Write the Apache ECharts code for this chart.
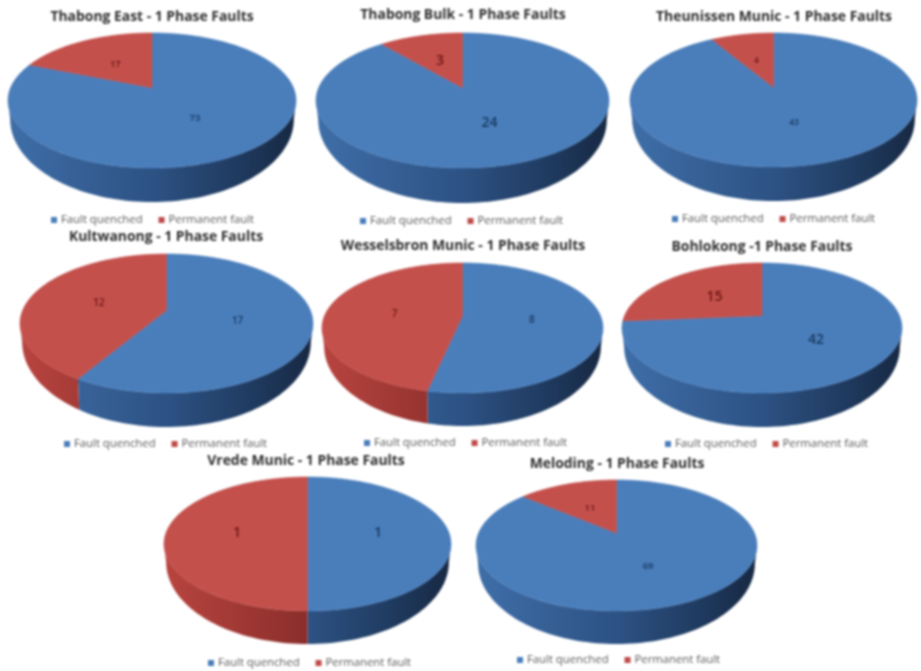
<!DOCTYPE html>
<html>
<head>
<meta charset="utf-8">
<script src="https://cdn.jsdelivr.net/npm/echarts@6/dist/echarts.min.js"></script>
<style>
html,body{margin:0;padding:0;background:#fff;overflow:hidden}
#c{width:921px;height:671px;filter:blur(0.8px)}
</style>
</head>
<body>
<div id="c"></div>
<script>
// ---- data ----
const substations = ['Thabong East','Thabong Bulk','Theunissen Munic','Kultwanong','Wesselsbron Munic','Bohlokong','Vrede Munic','Meloding'];
const chartTitles = ['Thabong East - 1 Phase Faults','Thabong Bulk - 1 Phase Faults','Theunissen Munic - 1 Phase Faults','Kultwanong - 1 Phase Faults','Wesselsbron Munic - 1 Phase Faults','Bohlokong -1 Phase Faults','Vrede Munic - 1 Phase Faults','Meloding - 1 Phase Faults'];
const faultQuenched = [73,24,43,17,8,42,1,69];
const permanentFault = [17,3,4,12,7,15,1,11];
const seriesNames = ['Fault quenched','Permanent fault'];

// ---- layout of each pie ----
const pieLeft  = [8,316,630,20,322,622,164,476];
const pieRight = [296,609,917,313,603,902,451,757];
const pieTop   = [33,33,33,254,263,263,477,480];
const pieFront = [168,168,167,393,393,393,611,611];
const pieBase  = [202,203,201,427,426,427,644,644];
const titleX   = [152,463,774,166,463,762,306,617];
const titleY   = [17,15,17,237,246,247,461,464];
const legendX  = [51,360,672,64,364,665,208,517];
const legendY  = [220,221,219,444,443,444,663,660];
const labelSize= [9.5,14,8.5,10,10,14,14,9.5];

const K = 0.19;               // perspective strength
const BLUE = '#4a7ebb', RED = '#c4504c';
const BLUE_WALL = ['#3f6ea8','#2d5284','#1f3a5f','#172842'];
const RED_WALL  = ['#b8443f','#8a2e2b','#6a2220','#5a1c1a'];
const FONT = '"Open Sans", sans-serif';

function geom(i){
  const cx=(pieLeft[i]+pieRight[i])/2, rx=(pieRight[i]-pieLeft[i])/2;
  const ry=(pieFront[i]-pieTop[i])/2, cy=(pieFront[i]+pieTop[i])/2;
  const sy=ry*(1-K*K), sx=rx*Math.sqrt(1-K*K);
  const apexY=cy-K*sy/(1-K*K);
  const depth=pieBase[i]-pieFront[i], side=depth*0.55;
  return {cx,cy,rx,ry,sx,sy,apexY,depth,side};
}
// project disc point (angle clockwise from 12 o'clock, radius t)
function proj(g,a,t){
  const u=t*Math.sin(a), v=-t*Math.cos(a), w=1-K*v;
  return [g.cx+g.sx*u/w, g.apexY+g.sy*v/w];
}
function wallPt(g,p){
  return [g.cx+(p[0]-g.cx)*0.985, g.cy+g.side+(p[1]-g.cy)*(1+(g.depth-g.side)/g.ry)];
}
function arc(g,a0,a1){
  const n=Math.max(2,Math.ceil(Math.abs(a1-a0)/0.03)), pts=[];
  for(let j=0;j<=n;j++) pts.push(proj(g,a0+(a1-a0)*j/n,1));
  return pts;
}
function makeRender(isFirst,color,wallStops){
  return function(params,api){
    const i=params.dataIndex, g=geom(i);
    const val=api.value(0);
    const total=faultQuenched[i]+permanentFault[i];
    const f=faultQuenched[i]/total*Math.PI*2;
    const a0=isFirst?0:f, a1=isFirst?f:Math.PI*2;
    const children=[];
    // visible (front) part of the side wall
    const fa0=Math.acos(-K), fa1=Math.PI*2-fa0;
    const w0=Math.max(a0,fa0), w1=Math.min(a1,fa1);
    if(w1>w0){
      const up=arc(g,w0,w1), low=up.map(p=>wallPt(g,p)).reverse();
      const fill={type:'linear',global:true,x:g.cx-g.rx,y:0,x2:g.cx+g.rx,y2:0,
        colorStops:[{offset:0,color:wallStops[0]},{offset:0.5,color:wallStops[1]},{offset:0.8,color:wallStops[2]},{offset:1,color:wallStops[3]}]};
      children.push({type:'polygon',shape:{points:up.concat(low)},style:{fill:fill,stroke:null}});
    }
    // top face
    const top=[[g.cx,g.apexY]].concat(arc(g,a0,a1));
    children.push({type:'polygon',shape:{points:top},style:{fill:color,stroke:color,lineWidth:0.6}});
    // value label
    const mid=(a0+a1)/2, lp=proj(g,mid,0.5);
    children.push({type:'text',x:lp[0],y:lp[1]+1.5,style:{text:String(val),fill:isFirst?'#17375e':'#6b1512',
      font:'600 '+labelSize[i]+'px '+FONT,textAlign:'center',textVerticalAlign:'middle'}});
    return {type:'group',children:children};
  };
}

const option={
  animation:false,
  backgroundColor:'#fff',
  title:chartTitles.map((t,i)=>({
    text:t,left:titleX[i],top:titleY[i],textAlign:'center',textVerticalAlign:'middle',padding:0,
    textStyle:{fontFamily:FONT,fontSize:13.9,fontWeight:'bold',color:'#2e2e2e'}
  })),
  legend:substations.map((s,i)=>({
    left:legendX[i],top:legendY[i]-7,padding:0,icon:'rect',itemWidth:6,itemHeight:6,itemGap:16,
    selectedMode:false,data:seriesNames,
    textStyle:{fontFamily:FONT,fontSize:11.3,color:'#595959',padding:[0,0,0,-1],lineHeight:14}
  })),
  series:[
    {type:'custom',name:seriesNames[0],coordinateSystem:'none',data:faultQuenched,itemStyle:{color:BLUE},
     renderItem:makeRender(true,BLUE,BLUE_WALL)},
    {type:'custom',name:seriesNames[1],coordinateSystem:'none',data:permanentFault,itemStyle:{color:'#be4b48'},
     renderItem:makeRender(false,RED,RED_WALL)}
  ]
};
echarts.init(document.getElementById('c')).setOption(option);
</script>
</body>
</html>
